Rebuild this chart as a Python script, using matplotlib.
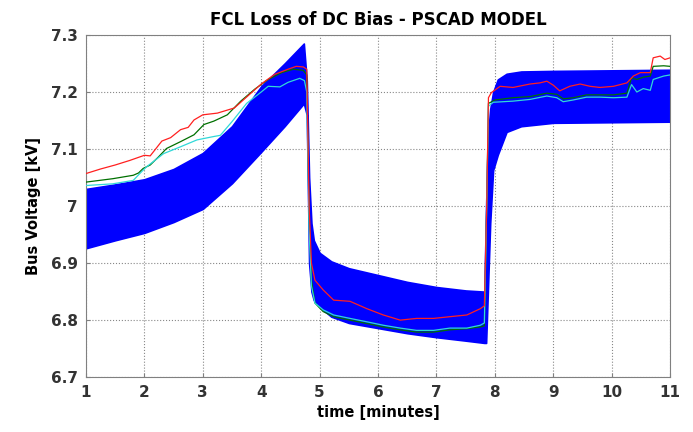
import matplotlib
matplotlib.use("Agg")
import matplotlib.pyplot as plt

plt.rcParams["font.family"] = ["DejaVu Sans"]

# blue band (envelope of the oscillating PSCAD bus voltage)
t_band = [1.0, 1.5, 2.0, 2.5, 3.0, 3.5, 4.0, 4.4, 4.73, 4.78, 4.82, 4.86, 4.9,
          5.0, 5.2, 5.5, 6.0, 6.5, 7.0, 7.5, 7.82, 7.85, 7.88, 7.92, 7.97,
          8.05, 8.2, 8.45, 9.0, 10.0, 11.0]
band_hi = [7.03, 7.038, 7.047, 7.065, 7.093, 7.14, 7.21, 7.25, 7.285, 7.22,
           7.05, 6.97, 6.94, 6.918, 6.903, 6.891, 6.879, 6.867, 6.858, 6.852,
           6.85, 7.0, 7.12, 7.17, 7.2, 7.222, 7.232, 7.236, 7.237, 7.238, 7.239]
band_lo = [6.926, 6.94, 6.953, 6.972, 6.995, 7.04, 7.095, 7.14, 7.18, 7.16,
           6.9, 6.85, 6.835, 6.823, 6.806, 6.795, 6.786, 6.777, 6.77, 6.764,
           6.76, 6.76, 6.85, 6.97, 7.063, 7.09, 7.13, 7.14, 7.146, 7.147, 7.148]

t_red = [1.0, 1.25, 1.5, 1.75, 2.0, 2.1, 2.3, 2.45, 2.62, 2.75, 2.85, 3.0,
         3.25, 3.54, 3.77, 4.0, 4.23, 4.46, 4.6, 4.72, 4.78, 4.82, 4.86, 4.92,
         5.06, 5.24, 5.52, 5.81, 6.09, 6.38, 6.66, 6.95, 7.23, 7.52, 7.75,
         7.82, 7.86, 7.89, 7.94, 8.09, 8.31, 8.6, 8.77, 8.89, 9.0, 9.11, 9.28,
         9.46, 9.63, 9.8, 10.03, 10.26, 10.37, 10.49, 10.66, 10.71, 10.83,
         10.91, 11.0]
v_red = [7.057, 7.065, 7.072, 7.08, 7.089, 7.088, 7.114, 7.12, 7.134, 7.138,
         7.151, 7.16, 7.163, 7.172, 7.193, 7.214, 7.231, 7.24, 7.245, 7.244,
         7.24, 7.0, 6.9, 6.87, 6.853, 6.835, 6.833, 6.82, 6.809, 6.80, 6.803,
         6.803, 6.806, 6.809, 6.82, 6.825, 7.0, 7.19, 7.199, 7.21, 7.208,
         7.214, 7.216, 7.219, 7.212, 7.202, 7.21, 7.214, 7.21, 7.208, 7.21,
         7.216, 7.228, 7.234, 7.234, 7.26, 7.263, 7.257, 7.26]

t_grn = [1.0, 1.46, 1.81, 1.9, 1.98, 2.1, 2.24, 2.38, 2.62, 2.85, 3.02, 3.19,
         3.42, 3.65, 3.89, 4.12, 4.35, 4.55, 4.72, 4.78, 4.82, 4.86, 4.92,
         5.06, 5.24, 5.52, 5.81, 6.09, 6.38, 6.66, 6.95, 7.23, 7.52, 7.75,
         7.82, 7.86, 7.89, 8.0, 8.31, 8.6, 8.89, 9.06, 9.17, 9.34, 9.57, 9.8,
         10.03, 10.26, 10.34, 10.43, 10.54, 10.66, 10.71, 10.89, 11.0]
v_grn = [7.042, 7.048, 7.054, 7.058, 7.066, 7.072, 7.086, 7.101, 7.113, 7.125,
         7.143, 7.149, 7.16, 7.184, 7.205, 7.222, 7.234, 7.24, 7.238, 7.23,
         6.98, 6.87, 6.83, 6.815, 6.806, 6.8, 6.794, 6.788, 6.783, 6.779,
         6.779, 6.783, 6.785, 6.788, 6.79, 7.0, 7.18, 7.186, 7.19, 7.192,
         7.198, 7.196, 7.188, 7.19, 7.195, 7.195, 7.195, 7.198, 7.225, 7.222,
         7.226, 7.228, 7.245, 7.246, 7.245]

t_cyn = [1.0, 1.46, 1.81, 1.95, 2.04, 2.33, 2.62, 2.9, 3.19, 3.3, 3.5, 3.75,
         4.0, 4.12, 4.32, 4.46, 4.66, 4.74, 4.78, 4.82, 4.86, 4.92, 5.06,
         5.24, 5.52, 5.81, 6.09, 6.38, 6.66, 6.95, 7.23, 7.52, 7.75, 7.82,
         7.86, 7.89, 7.97, 8.31, 8.6, 8.89, 9.06, 9.17, 9.34, 9.57, 9.8, 10.03,
         10.26, 10.34, 10.43, 10.54, 10.66, 10.71, 10.89, 11.0]
v_cyn = [7.036, 7.039, 7.045, 7.06, 7.069, 7.092, 7.104, 7.116, 7.122, 7.124,
         7.148, 7.18, 7.2, 7.21, 7.209, 7.217, 7.224, 7.22, 7.2, 6.96, 6.86,
         6.83, 6.818, 6.809, 6.803, 6.797, 6.791, 6.786, 6.782, 6.782, 6.786,
         6.786, 6.791, 6.795, 7.0, 7.175, 7.182, 7.184, 7.187, 7.193, 7.19,
         7.183, 7.186, 7.191, 7.191, 7.19, 7.191, 7.213, 7.2, 7.206, 7.203,
         7.222, 7.228, 7.23]

x_ticks = list(range(1, 12))
y_ticks = [6.7, 6.8, 6.9, 7.0, 7.1, 7.2, 7.3]
y_labels = ["6.7", "6.8", "6.9", "7", "7.1", "7.2", "7.3"]

fig = plt.figure(figsize=(6.93, 4.32), dpi=100)
ax = fig.add_axes([0.124, 0.127, 0.843, 0.792])

ax.fill_between(t_band, band_lo, band_hi, color="#0000ff", linewidth=1.2,
                edgecolor="#0000ff", zorder=2)
ax.plot(t_grn, v_grn, color="#007000", linewidth=0.9, zorder=3)
ax.plot(t_cyn, v_cyn, color="#30d8d8", linewidth=0.9, zorder=3)
ax.plot(t_red, v_red, color="#ff2020", linewidth=0.9, zorder=4)

ax.set_xlim(1, 11)
ax.set_ylim(6.7, 7.3)
ax.set_xticks(x_ticks)
ax.set_yticks(y_ticks)
ax.set_yticklabels(y_labels)
ax.grid(True, linestyle=":", color="#888888", linewidth=0.8)
ax.set_axisbelow(True)
for sp in ax.spines.values():
    sp.set_color("#808080")
    sp.set_linewidth(0.8)
ax.tick_params(direction="in", length=3, color="#808080", labelsize=11,
               pad=6)
for lab in ax.get_xticklabels() + ax.get_yticklabels():
    lab.set_fontweight("bold")
    lab.set_color("#333333")

ax.set_title("FCL Loss of DC Bias - PSCAD MODEL", fontsize=12,
             fontweight="bold", pad=7)
ax.set_xlabel("time [minutes]", fontsize=10.5, fontweight="bold", labelpad=3)
ax.set_ylabel("Bus Voltage [kV]", fontsize=10.5, fontweight="bold", labelpad=7)

fig.savefig("out.png", dpi=100)
